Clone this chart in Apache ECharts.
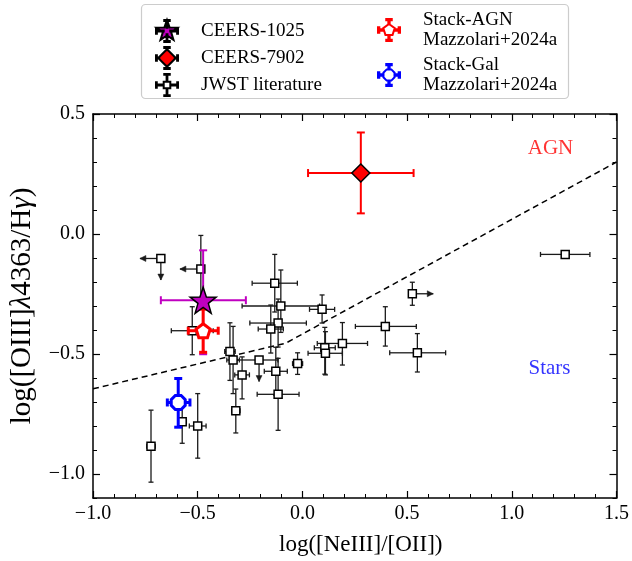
<!DOCTYPE html>
<html>
<head>
<meta charset="utf-8">
<script src="https://cdn.jsdelivr.net/npm/echarts@6/dist/echarts.min.js"></script>
<style>
html, body { margin: 0; padding: 0; background: #fff; }
#chart { width: 632px; height: 561px; }
</style>
</head>
<body>
<div id="chart"></div>
<script>
// JWST literature sample: log([NeIII]/[OII]), log([OIII]4363/Hg) and errors
// xLim/yLim: -1 = arrow towards lower values, 1 = arrow towards higher values
const jwstX    = [-0.676, -0.485, -0.526, -0.132, -0.103, -0.116, -0.151, -0.346, -0.331, -0.207, -0.288, -0.127, -0.116, -0.023, 0.094, 0.107, 0.110, 0.191, -0.318, -0.574, -0.500, -0.723, 0.396, 0.549, 0.525, 1.255];
const jwstY    = [-0.102, -0.146, -0.403, -0.205, -0.300, -0.371, -0.396, -0.490, -0.525, -0.525, -0.587, -0.572, -0.668, -0.540, -0.314, -0.474, -0.497, -0.456, -0.736, -0.782, -0.800, -0.884, -0.385, -0.495, -0.249, -0.085];
const jwstXLo  = [0.10, 0.10, 0.10, 0.108, 0.185, 0.135, 0.06, 0.025, 0.03, 0.12, 0.035, 0.055, 0.10, 0.024, 0.06, 0.05, 0.083, 0.12, 0.02, 0.02, 0.04, 0.02, 0.143, 0.132, 0, 0.118];
const jwstXHi  = [0, 0, 0.10, 0.108, 0.185, 0.135, 0.06, 0.025, 0.03, 0.09, 0.035, 0.055, 0.10, 0.024, 0.06, 0.05, 0.081, 0.12, 0.02, 0.02, 0.04, 0.02, 0.148, 0.135, 0.10, 0.118];
const jwstYLo  = [0.09, 0.14, 0.10, 0.12, 0.11, 0.10, 0.10, 0.12, 0.14, 0.09, 0.10, 0.10, 0.15, 0.045, 0.057, 0.11, 0.09, 0.09, 0.093, 0.09, 0.134, 0.15, 0.082, 0.08, 0.048, 0];
const jwstYHi  = [0, 0.14, 0.10, 0.12, 0.15, 0.10, 0.10, 0.12, 0.14, 0, 0.075, 0.10, 0.15, 0.045, 0.06, 0.085, 0.09, 0.087, 0.09, 0.09, 0.135, 0.15, 0.082, 0.08, 0.048, 0];
const jwstXLim = [-1, -1, 0, 0, 0, 0, 0, 0, 0, 0, 0, 0, 0, 0, 0, 0, 0, 0, 0, 0, 0, 0, 0, 0, 1, 0];
const jwstYLim = [-1, 0, 0, 0, 0, 0, 0, 0, 0, -1, 0, 0, 0, 0, 0, 0, 0, 0, 0, 0, 0, 0, 0, 0, 0, 0];

// CEERS sources and Mazzolari+2024a stacks: [x, y], errors [xLo, xHi, yLo, yHi]
const ceers1025 = [-0.474, -0.276];
const ceers1025Err = [0.202, 0.204, 0.225, 0.208];
const ceers7902 = [0.279, 0.254];
const ceers7902Err = [0.252, 0.252, 0.168, 0.169];
const stackAgn = [-0.474, -0.403];
const stackAgnErr = [0.071, 0.072, 0.09, 0.09];
const stackGal = [-0.593, -0.702];
const stackGalErr = [0.052, 0.056, 0.103, 0.10];

// AGN / star-forming demarcation line
const demX = [-1.0, -0.08, 1.5];
const demY = [-0.645, -0.455, 0.30];

const yTicks = [-1.0, -0.5, 0.0, 0.5];

const FONT = 'Liberation Serif';

function fmt(v) {
    if (Math.abs(v) < 1e-9) v = 0;
    return v.toFixed(1).replace('-', '\u2212');
}

// regular polygon / star outlines
function polyPath(n, r, rot, inner) {
    const pts = [];
    const k = inner ? 2 * n : n;
    for (let i = 0; i < k; i++) {
        const a = rot + i * 2 * Math.PI / k;
        const rr = inner && i % 2 ? inner : r;
        pts.push((rr * Math.cos(a)).toFixed(2) + ' ' + (rr * Math.sin(a)).toFixed(2));
    }
    return 'M' + pts.join(' L') + ' Z';
}
function rectPath(x1, y1, x2, y2) {
    return 'M' + x1 + ' ' + y1 + ' L' + x2 + ' ' + y1 + ' L' + x2 + ' ' + y2 + ' L' + x1 + ' ' + y2 + ' Z';
}
// legend icon: marker plus error bars with caps, in a 20x20 box
function withBars(marker, r, t) {
    return 'path://' + [
        rectPath(-10, -t, -r, t), rectPath(r, -t, 10, t),
        rectPath(-t, -10, t, -r), rectPath(-t, r, t, 10),
        rectPath(-10, -2.5, -10 + 2 * t, 2.5), rectPath(10 - 2 * t, -2.5, 10, 2.5),
        rectPath(-2.5, -10, 2.5, -10 + 2 * t), rectPath(-2.5, 10 - 2 * t, 2.5, 10),
        marker
    ].join(' ');
}
const starPath = 'path://' + polyPath(5, 10, -Math.PI / 2, 4);
const pentPath = 'path://' + polyPath(5, 10, -Math.PI / 2);
const octPath = 'path://' + polyPath(8, 10, Math.PI / 8);

const starIcon = withBars(polyPath(5, 10, -Math.PI / 2, 4), 3, 0.4);
const diamondIcon = withBars(polyPath(4, 8, -Math.PI / 2), 7, 0.4);
const squareIcon = withBars(rectPath(-3, -3, 3, 3), 3, 0.35);
const pentIcon = withBars(polyPath(5, 5.5, -Math.PI / 2), 5, 0.6);
const octIcon = withBars(polyPath(8, 5.5, Math.PI / 8), 5, 0.6);

function errRows(xs, ys, xlo, xhi, ylo, yhi, xl, yl) {
    return xs.map((x, i) => [x, ys[i], xlo[i], xhi[i], ylo[i], yhi[i], xl ? xl[i] : 0, yl ? yl[i] : 0]);
}

// error bars with caps (or arrows for limits)
function errorSeries(name, data, color, width, cap, z) {
    return {
        name: name,
        type: 'custom',
        z: z,
        silent: true,
        data: data,
        renderItem: function (params, api) {
            const x = api.value(0), y = api.value(1);
            const c = api.coord([x, y]);
            const dirs = [
                [api.value(2), [x - api.value(2), y], api.value(6) < 0],
                [api.value(3), [x + api.value(3), y], api.value(6) > 0],
                [api.value(4), [x, y - api.value(4)], api.value(7) < 0],
                [api.value(5), [x, y + api.value(5)], api.value(7) > 0]
            ];
            const style = { stroke: color, lineWidth: width, fill: null };
            const kids = [];
            dirs.forEach(function (d) {
                if (!(d[0] > 0)) return;
                const e = api.coord(d[1]);
                kids.push({ type: 'line', shape: { x1: c[0], y1: c[1], x2: e[0], y2: e[1] }, style: style });
                const dx = e[0] - c[0], dy = e[1] - c[1];
                const len = Math.sqrt(dx * dx + dy * dy) || 1;
                const ux = dx / len, uy = dy / len;
                if (d[2]) {
                    kids.push({
                        type: 'polygon',
                        shape: { points: [[e[0], e[1]], [e[0] - ux * 6 - uy * 3, e[1] - uy * 6 + ux * 3], [e[0] - ux * 6 + uy * 3, e[1] - uy * 6 - ux * 3]] },
                        style: { fill: color, stroke: color, lineWidth: 0.5 }
                    });
                } else {
                    kids.push({ type: 'line', shape: { x1: e[0] - uy * cap, y1: e[1] + ux * cap, x2: e[0] + uy * cap, y2: e[1] - ux * cap }, style: style });
                }
            });
            return { type: 'group', children: kids };
        }
    };
}

const chart = echarts.init(document.getElementById('chart'));

const labelStyle = { fontFamily: FONT, fontSize: 20, color: '#000' };
const frameLine = { onZero: false, lineStyle: { color: '#000', width: 1.5 } };
const noLine = { show: false, onZero: false };
const yBase = { type: 'value', min: -1.1, max: 0.5, interval: 0.1, splitLine: { show: false } };

chart.setOption({
    backgroundColor: '#fff',
    animation: false,
    grid: { left: 93, right: 15, top: 114, bottom: 57 },
    legend: [{
        data: [
            { name: 'CEERS-1025', icon: starIcon },
            { name: 'CEERS-7902', icon: diamondIcon },
            { name: 'JWST literature', icon: squareIcon }
        ],
        orient: 'vertical',
        left: 155, top: 19, padding: 0,
        itemWidth: 58, itemHeight: 22, itemGap: 3,
        symbolKeepAspect: true,
        textStyle: { fontFamily: FONT, fontSize: 19, color: '#000' },
        selectedMode: false
    }, {
        data: [
            { name: 'Stack-AGN', icon: pentIcon },
            { name: 'Stack-Gal', icon: octIcon }
        ],
        orient: 'vertical',
        left: 377, top: 10, padding: 0,
        itemWidth: 58, itemHeight: 22, itemGap: 5,
        symbolKeepAspect: true,
        formatter: function (name) { return name + '\nMazzolari+2024a'; },
        textStyle: { fontFamily: FONT, fontSize: 19, color: '#000', lineHeight: 20 },
        selectedMode: false
    }],
    graphic: [{
        type: 'rect',
        shape: { x: 141.5, y: 4.5, width: 427, height: 94, r: 4 },
        style: { fill: null, stroke: '#cccccc', lineWidth: 1.2 },
        z: -1
    }],
    xAxis: [{
        type: 'value', min: -1.0, max: 1.5, interval: 0.5, position: 'bottom',
        axisLine: frameLine,
        axisTick: { inside: true, length: 7, lineStyle: { color: '#000', width: 1.2 } },
        minorTick: { show: true, splitNumber: 5, length: 4, lineStyle: { color: '#000', width: 1 } },
        axisLabel: Object.assign({ formatter: fmt, margin: 6 }, labelStyle),
        splitLine: { show: false },
        name: 'log([NeIII]/[OII])', nameLocation: 'middle', nameGap: 35,
        nameTextStyle: { fontFamily: FONT, fontSize: 23, color: '#000', padding: [0, 0, 0, 12] }
    }, {
        type: 'value', min: -1.0, max: 1.5, interval: 0.5, position: 'top',
        axisLine: frameLine,
        axisTick: { inside: true, length: 7, lineStyle: { color: '#000', width: 1.2 } },
        minorTick: { show: true, splitNumber: 5, length: 4, lineStyle: { color: '#000', width: 1 } },
        axisLabel: { show: false },
        splitLine: { show: false }
    }],
    yAxis: [Object.assign({}, yBase, {
        position: 'left',
        axisLine: frameLine,
        axisTick: { inside: true, length: 4, lineStyle: { color: '#000', width: 1 } },
        axisLabel: Object.assign({
            customValues: yTicks, margin: 8,
            formatter: function (v) { return Math.abs(v * 2 - Math.round(v * 2)) < 1e-6 ? fmt(v) : ''; }
        }, labelStyle),
        name: 'log([OIII]{i|\u03bb}4363/H{i|\u03b3})', nameLocation: 'middle', nameGap: 56,
        nameTextStyle: { fontFamily: FONT, fontSize: 29, color: '#000', rich: { i: { fontFamily: FONT, fontSize: 29, fontStyle: 'italic', color: '#000' } } }
    }), Object.assign({}, yBase, {
        position: 'left',
        axisLine: noLine,
        axisTick: { inside: true, length: 7, customValues: yTicks, lineStyle: { color: '#000', width: 1.2 } },
        axisLabel: { show: false }
    }), Object.assign({}, yBase, {
        position: 'right',
        axisLine: frameLine,
        axisTick: { inside: true, length: 4, lineStyle: { color: '#000', width: 1 } },
        axisLabel: { show: false }
    }), Object.assign({}, yBase, {
        position: 'right',
        axisLine: noLine,
        axisTick: { inside: true, length: 7, customValues: yTicks, lineStyle: { color: '#000', width: 1.2 } },
        axisLabel: { show: false }
    })],
    series: [{
        name: 'demarcation',
        type: 'line',
        data: demX.map((x, i) => [x, demY[i]]),
        showSymbol: false, silent: true, z: 1,
        lineStyle: { color: '#000', width: 1.5, type: [6, 4] }
    }, {
        name: 'regions',
        type: 'scatter',
        data: [
            { name: 'AGN', value: [1.185, 0.357], label: { color: '#ff0000' } },
            { name: 'Stars', value: [1.18, -0.56], label: { color: '#0000ff' } }
        ],
        symbolSize: 0, silent: true,
        label: { show: true, position: 'inside', formatter: '{b}', fontFamily: FONT, fontSize: 21 }
    },
    errorSeries('jwst-err', errRows(jwstX, jwstY, jwstXLo, jwstXHi, jwstYLo, jwstYHi, jwstXLim, jwstYLim), '#1a1a1a', 1.3, 2.5, 2),
    {
        name: 'JWST literature',
        type: 'scatter', z: 3,
        data: jwstX.map((x, i) => [x, jwstY[i]]),
        symbol: 'rect', symbolSize: 8,
        itemStyle: { color: '#fff', borderColor: '#000', borderWidth: 1.5, opacity: 1 }
    },
    errorSeries('ceers1025-err', errRows([ceers1025[0]], [ceers1025[1]], [ceers1025Err[0]], [ceers1025Err[1]], [ceers1025Err[2]], [ceers1025Err[3]]), '#c000c0', 2, 4, 4),
    errorSeries('ceers7902-err', errRows([ceers7902[0]], [ceers7902[1]], [ceers7902Err[0]], [ceers7902Err[1]], [ceers7902Err[2]], [ceers7902Err[3]]), '#ff0000', 2, 4, 4),
    errorSeries('agn-err', errRows([stackAgn[0]], [stackAgn[1]], [stackAgnErr[0]], [stackAgnErr[1]], [stackAgnErr[2]], [stackAgnErr[3]]), '#ff0000', 3, 4, 5),
    errorSeries('gal-err', errRows([stackGal[0]], [stackGal[1]], [stackGalErr[0]], [stackGalErr[1]], [stackGalErr[2]], [stackGalErr[3]]), '#0000ff', 3, 4, 5),
    {
        name: 'CEERS-1025',
        type: 'scatter', z: 6,
        data: [ceers1025],
        symbol: starPath, symbolSize: 26,
        itemStyle: { color: '#c000c0', borderColor: '#000', borderWidth: 1.5, opacity: 1 }
    }, {
        name: 'CEERS-7902',
        type: 'scatter', z: 6,
        data: [ceers7902],
        symbol: 'diamond', symbolSize: 18,
        itemStyle: { color: '#ff0000', borderColor: '#000', borderWidth: 1.5, opacity: 1 }
    }, {
        name: 'Stack-AGN',
        type: 'scatter', z: 6,
        data: [stackAgn],
        symbol: pentPath, symbolSize: 14,
        itemStyle: { color: '#fff', borderColor: '#ff0000', borderWidth: 3, opacity: 1 }
    }, {
        name: 'Stack-Gal',
        type: 'scatter', z: 6,
        data: [stackGal],
        symbol: octPath, symbolSize: 14,
        itemStyle: { color: '#fff', borderColor: '#0000ff', borderWidth: 3, opacity: 1 }
    }]
});
</script>
</body>
</html>
